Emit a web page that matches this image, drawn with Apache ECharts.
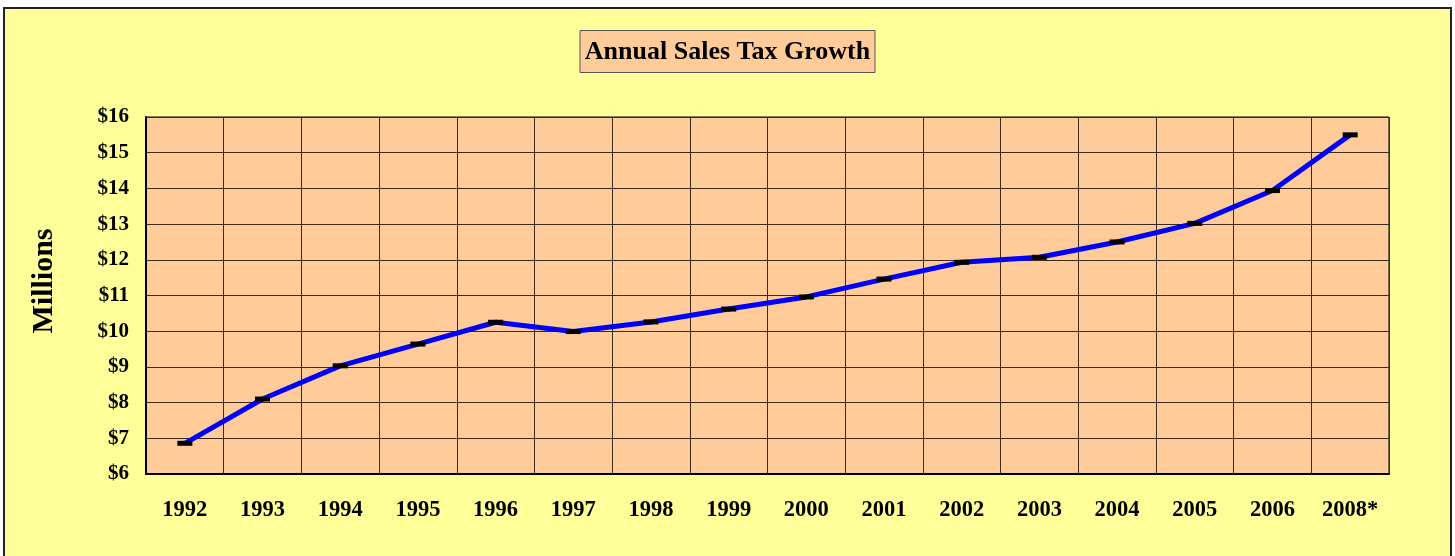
<!DOCTYPE html>
<html>
<head>
<meta charset="utf-8">
<script src="https://cdn.jsdelivr.net/npm/echarts@6/dist/echarts.min.js"></script>
<style>
html,body{margin:0;padding:0;background:#ffffff;}
#chart{width:1455px;height:556px;}
</style>
</head>
<body>
<div id="chart"></div>
<script>
const years = ['1992','1993','1994','1995','1996','1997','1998','1999','2000','2001','2002','2003','2004','2005','2006','2008*'];
const salesTax = [6.86, 8.10, 9.03, 9.64, 10.25, 9.99, 10.26, 10.62, 10.96, 11.46, 11.93, 12.07, 12.50, 13.02, 13.94, 15.50];
const titleText = 'Annual Sales Tax Growth';
const yAxisName = 'Millions';

const serif = '"Liberation Serif", "DejaVu Serif", serif';
const chart = echarts.init(document.getElementById('chart'), null, {renderer: 'canvas'});
chart.setOption({
  animation: false,
  backgroundColor: '#ffffff',
  graphic: [
    {type: 'rect', z: -10, silent: true,
     shape: {x: 4, y: 8, width: 1447, height: 560},
     style: {fill: '#ffff99', stroke: '#222222', lineWidth: 2}},
    {type: 'text', silent: true, x: 44, y: 281, rotation: Math.PI / 2,
     style: {text: yAxisName, fontFamily: serif, fontWeight: 'bold', fontSize: 30, fill: '#000000',
             align: 'center', verticalAlign: 'middle'}}
  ],
  title: {
    text: titleText,
    left: 'center',
    top: 30,
    backgroundColor: '#ffcc99',
    borderColor: '#555555',
    borderWidth: 1,
    padding: [9, 5, 8, 5],
    textStyle: {fontFamily: serif, fontWeight: 'bold', fontSize: 26, color: '#000000'}
  },
  grid: {left: 146, right: 66, top: 117, bottom: 82, show: true, backgroundColor: '#ffcc99', borderColor: '#000000', borderWidth: 1},
  xAxis: {
    type: 'category',
    data: years,
    boundaryGap: true,
    axisLine: {show: true, lineStyle: {color: '#000000', width: 2}},
    axisTick: {show: false},
    splitLine: {show: true, interval: 0, lineStyle: {color: '#3a2a1a', width: 1}},
    axisLabel: {interval: 0, margin: 25, fontFamily: serif, fontWeight: 'bold', fontSize: 22.5, color: '#000000'}
  },
  yAxis: {
    type: 'value',
    min: 6, max: 16, interval: 1,
    axisLine: {show: true, lineStyle: {color: '#000000', width: 2}},
    axisTick: {show: false},
    splitLine: {show: true, lineStyle: {color: '#3a2a1a', width: 1}},
    axisLabel: {margin: 17, fontFamily: serif, fontWeight: 'bold', fontSize: 21, color: '#000000', formatter: v => '$' + v}
  },
  series: [{
    type: 'line',
    data: salesTax,
    lineStyle: {color: '#0000ff', width: 5},
    symbol: 'rect',
    symbolSize: [15, 5],
    itemStyle: {color: '#000000'},
    z: 5
  }]
});
</script>
</body>
</html>
